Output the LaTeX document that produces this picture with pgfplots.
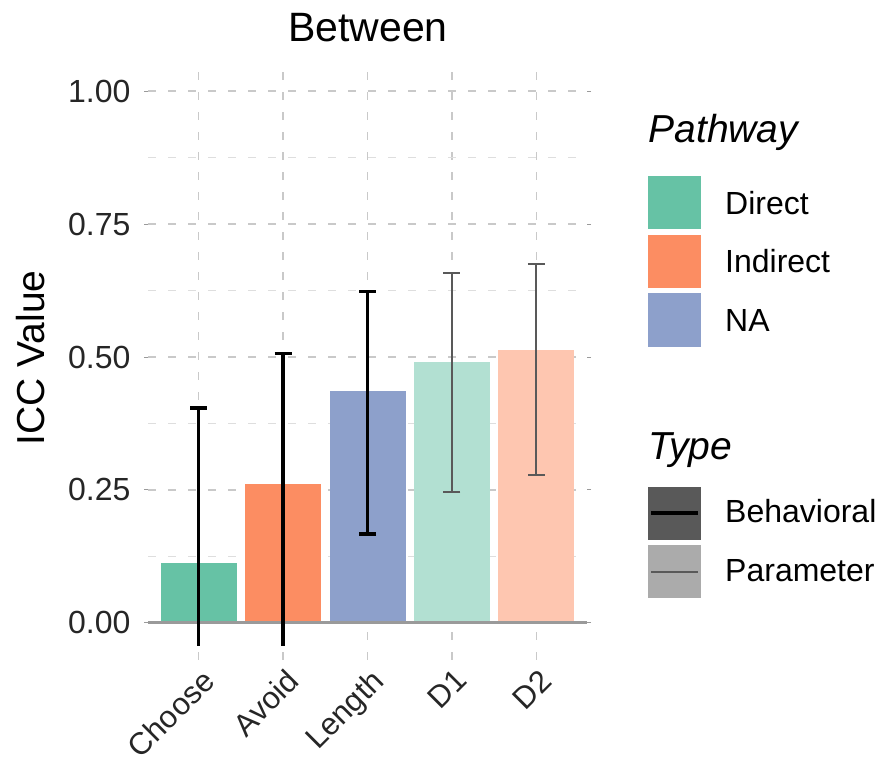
\documentclass[border=0pt]{standalone}
\usepackage{pgfplots}
\pgfplotsset{compat=1.18}
\usepackage{pgfplotstable}
\usepackage{fontspec}
\setmainfont{Liberation Sans}

\definecolor{cDirect}{HTML}{66C2A5}
\definecolor{cIndirect}{HTML}{FC8D62}
\definecolor{cNA}{HTML}{8DA0CB}
\definecolor{gridmaj}{HTML}{C9C9C9}
\definecolor{gridmin}{HTML}{DEDEDE}
\definecolor{ticktext}{HTML}{262626}
\definecolor{zeroline}{HTML}{9A9A9A}

% ICC estimates with confidence limits (x = category index)
\pgfplotstableread{
x  y      lo      hi
0  0.112  -0.044  0.404
1  0.261  -0.044  0.506
2  0.437  0.167   0.624
}\behavioral
\pgfplotstableread{
x  y      lo      hi
3  0.490  0.246   0.659
4  0.514  0.278   0.675
}\parameter

\begin{document}
\begin{tikzpicture}[x=1pt,y=1pt]
\useasboundingbox (0,0) rectangle (881,762);
\begin{axis}[
  at={(148pt,102pt)}, anchor=south west,
  scale only axis, width=439pt, height=590pt,
  xmin=-0.6, xmax=4.6, ymin=-0.07, ymax=1.04,
  axis line style={draw=none},
  xtick={0,1,2,3,4},
  xticklabels={Choose,Avoid,Length,D1,D2},
  ytick={0,0.25,0.5,0.75,1},
  minor ytick={0.125,0.375,0.625,0.875},
  yticklabel={\pgfmathprintnumber[fixed,fixed zerofill,precision=2,assume math mode=true]{\tick}},
  xmajorgrids, ymajorgrids, yminorgrids,
  major grid style={gridmaj, line width=1.6pt, dash pattern=on 8pt off 12pt},
  minor grid style={gridmin, line width=1.2pt, dash pattern=on 8pt off 12pt},
  tick align=outside,
  xtick style={draw=none},
  ytick style={draw=zeroline, line width=1pt},
  major tick length=4pt, minor tick length=0pt,
  tick label style={text=ticktext},
  yticklabel style={font=\fontsize{32}{38}\selectfont, xshift=-10pt},
  xticklabel style={font=\fontsize{31}{37}\selectfont, inner sep=1pt,
    xshift=2pt, yshift=-2pt, rotate=45, anchor=north east},
  clip=false,
]
% bars
\addplot[ybar, bar width=76pt, bar shift=0pt, fill=cDirect, draw=none] coordinates {(0,0.112)};
\addplot[ybar, bar width=76pt, bar shift=0pt, fill=cIndirect, draw=none] coordinates {(1,0.261)};
\addplot[ybar, bar width=76pt, bar shift=0pt, fill=cNA, draw=none] coordinates {(2,0.437)};
\addplot[ybar, bar width=76pt, bar shift=0pt, fill=cDirect!50!white, draw=none] coordinates {(3,0.490)};
\addplot[ybar, bar width=76pt, bar shift=0pt, fill=cIndirect!50!white, draw=none] coordinates {(4,0.514)};
% zero line
\addplot[zeroline, line width=2.6pt, mark=none] coordinates {(-0.6,0) (4.6,0)};
% behavioral error bars: capped upper limits
\addplot[draw=none, mark=none,
  error bars/.cd, y dir=plus, y explicit,
  error bar style={draw=black, line width=3.2pt},
  error mark options={rotate=90, draw=black, line width=3.2pt, mark size=8.5pt}]
  table[x=x, y=y, y error plus expr=\thisrow{hi}-\thisrow{y}] {\behavioral};
% behavioral lower limits (Length capped, the other two run off the panel)
\addplot[draw=none, mark=none,
  error bars/.cd, y dir=minus, y explicit, error mark=none,
  error bar style={draw=black, line width=3.2pt}]
  table[x=x, y=y, y error minus expr=\thisrow{y}-\thisrow{lo}] {\behavioral};
\addplot[draw=none, mark=none,
  error bars/.cd, y dir=minus, y explicit,
  error bar style={draw=black, line width=3.2pt},
  error mark options={rotate=90, draw=black, line width=3.2pt, mark size=8.5pt}]
  coordinates {(2,0.437) -= (0,0.270)};
% parameter error bars
\addplot[draw=none, mark=none,
  error bars/.cd, y dir=both, y explicit,
  error bar style={draw=black!65, line width=2pt},
  error mark options={rotate=90, draw=black!65, line width=2pt, mark size=8.5pt}]
  table[x=x, y=y, y error plus expr=\thisrow{hi}-\thisrow{y}, y error minus expr=\thisrow{y}-\thisrow{lo}] {\parameter};
\end{axis}

% title and y label
\node[font=\fontsize{41}{49}\selectfont] at (368,734) {Between};
\node[font=\fontsize{39}{47}\selectfont, rotate=90] at (31,404) {ICC Value};

% legend: Pathway
\node[anchor=base west, font=\fontsize{39}{47}\selectfont\itshape] at (645,619) {Pathway};
\fill[cDirect]   (648,533) rectangle (701,586);
\fill[cIndirect] (648,474) rectangle (701,527);
\fill[cNA]       (648,415) rectangle (701,469);
\begin{scope}[font=\fontsize{32}{38}\selectfont]
\node[anchor=base west, inner sep=0pt] at (725,547) {Direct};
\node[anchor=base west, inner sep=0pt] at (725,489) {Indirect};
\node[anchor=base west, inner sep=0pt] at (725,430) {NA};
\end{scope}

% legend: Type
\node[anchor=base west, font=\fontsize{39}{47}\selectfont\itshape] at (645,302) {Type};
\fill[black!65] (648,222) rectangle (701,275);
\draw[black, line width=3.2pt] (651,249) -- (698,249);
\fill[black!33] (648,164) rectangle (701,217);
\draw[black!65, line width=2.2pt] (651,190) -- (698,190);
\begin{scope}[font=\fontsize{32}{38}\selectfont]
\node[anchor=base west, inner sep=0pt] at (725,239) {Behavioral};
\node[anchor=base west, inner sep=0pt] at (725,180) {Parameter};
\end{scope}
\end{tikzpicture}
\end{document}
